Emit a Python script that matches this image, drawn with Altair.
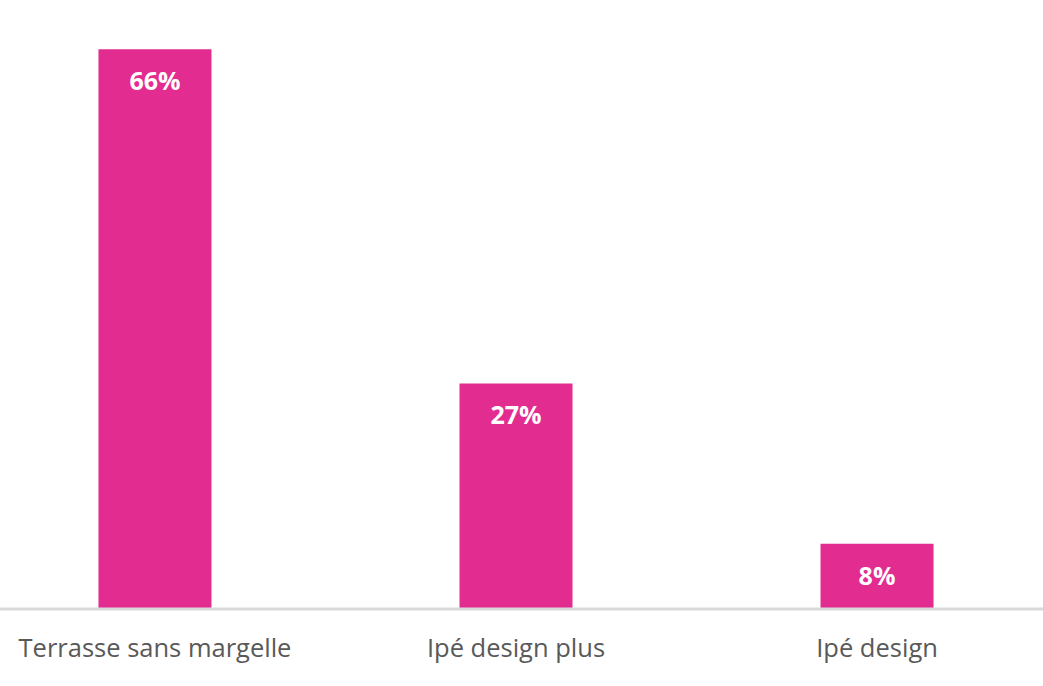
import altair as alt
import pandas as pd

categories = ["Terrasse sans margelle", "Ipé design plus", "Ipé design"]
values = [66, 26.6, 7.7]
labels = ["66%", "27%", "8%"]

df = pd.DataFrame({"cat": categories, "value": values, "label": labels})

PINK = "#E32C90"
FONT = "Open Sans"
YMAX = 71.8

x = alt.X(
    "cat:N",
    sort=categories,
    scale=alt.Scale(range=[4.6, 1027.4], paddingInner=0.687, paddingOuter=0.26),
    axis=alt.Axis(
        title=None, domain=False, ticks=False, labelAngle=0,
        labelFont=FONT, labelFontSize=25.5, labelColor="#595959",
        labelPadding=27, labelBaseline="top", labelLimit=0,
    ),
)
y = alt.Y("value:Q", scale=alt.Scale(domain=[0, YMAX]), axis=None)

base = alt.Chart(df)

bars = base.mark_bar(color=PINK).encode(x=x, y=y)

text = base.mark_text(
    color="white", font=FONT, fontSize=25, fontWeight="bold",
    baseline="middle", align="center", dy=33,
).encode(x=x, y=y, text="label:N")

baseline = alt.Chart(pd.DataFrame({"v": [0]})).mark_rule(
    color="#D9D9D9", strokeWidth=3
).encode(y=alt.Y("v:Q", scale=alt.Scale(domain=[0, YMAX]), axis=None),
         x=alt.value(0), x2=alt.value(1043))

chart = alt.layer(bars, text, baseline).properties(
    width=1043, height=609,
    autosize=alt.AutoSizeParams(type="none"),
    padding={"left": 0, "top": 0, "right": 0, "bottom": 77},
    background="white",
).configure_view(stroke=None)

chart.save("out.html", embed_options={"renderer": "svg", "actions": False})
